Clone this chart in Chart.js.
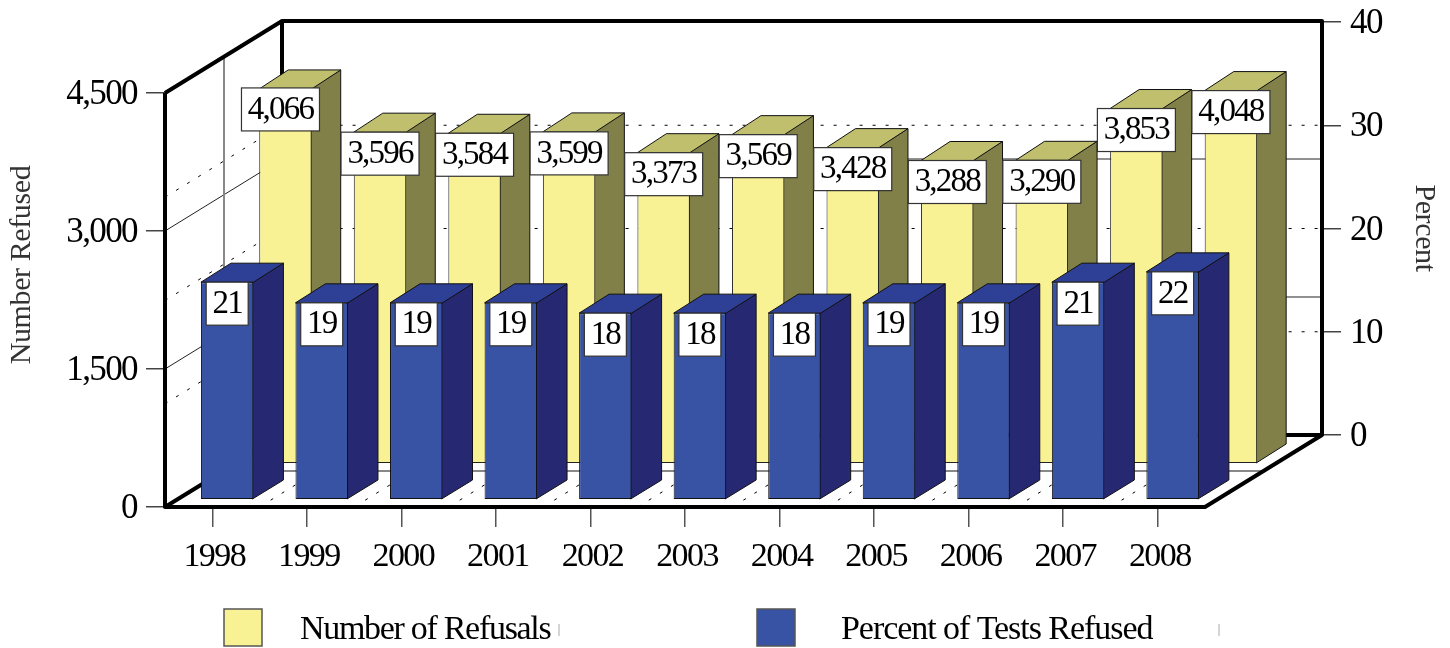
<!DOCTYPE html>
<html>
<head>
<meta charset="utf-8">
<title>Refusals</title>
<script src="https://cdn.jsdelivr.net/npm/chart.js@4/dist/chart.umd.min.js"></script>
<style>
  html, body { margin: 0; padding: 0; background: #fff; }
  canvas { display: block; }
</style>
</head>
<body>
<canvas id="chart" width="1450" height="648"></canvas>
<script>
const years = ['1998', '1999', '2000', '2001', '2002', '2003', '2004', '2005', '2006', '2007', '2008'];
const refusals = [4066, 3596, 3584, 3599, 3373, 3569, 3428, 3288, 3290, 3853, 4048];
const percentRefused = [21, 19, 19, 19, 18, 18, 18, 19, 19, 21, 22];

const serif = 'Liberation Serif';
const DEPTH_X = 117;
const DEPTH_Y = 72;

function placeScale(scale, left, top, right, bottom) {
  scale.left = left;
  scale.top = top;
  scale.right = right;
  scale.bottom = bottom;
  scale.width = right - left;
  scale.height = bottom - top;
  scale.configure();
}

function nudgeLabels(scale, area, dx, dy) {
  scale.getLabelItems(area).forEach(item => {
    item.options.translation[0] += dx;
    item.options.translation[1] += dy;
  });
}

function line(ctx, points, width, color, dash) {
  ctx.save();
  ctx.beginPath();
  points.forEach((p, i) => (i ? ctx.lineTo(p[0], p[1]) : ctx.moveTo(p[0], p[1])));
  ctx.lineWidth = width;
  ctx.strokeStyle = color;
  ctx.lineJoin = 'round';
  ctx.setLineDash(dash || []);
  ctx.stroke();
  ctx.restore();
}

function face(ctx, points, fill) {
  ctx.beginPath();
  points.forEach((p, i) => (i ? ctx.lineTo(p[0], p[1]) : ctx.moveTo(p[0], p[1])));
  ctx.closePath();
  ctx.fillStyle = fill;
  ctx.fill();
  ctx.lineWidth = 1;
  ctx.strokeStyle = '#111';
  ctx.stroke();
}

function text(ctx, str, x, y, size, color, spacing, rotation) {
  ctx.save();
  ctx.translate(x, y);
  if (rotation) ctx.rotate(rotation);
  ctx.font = size + 'px "' + serif + '"';
  ctx.letterSpacing = spacing + 'px';
  ctx.fillStyle = color;
  ctx.textAlign = 'center';
  ctx.textBaseline = 'middle';
  ctx.fillText(str, 0, 0);
  ctx.restore();
}

// the picture has two value planes and an offset right axis, so the scales get moved by hand
const planePlugin = {
  id: 'planes',
  afterLayout(chart) {
    const s = chart.scales;
    placeScale(s.x, 165, 507, 1205, 648);
    placeScale(s.y, 0, 93, 165, 507);
    placeScale(s.y2, 1323, 22, 1450, 435);
    placeScale(s.xFront, 179.9, 499, 1219.9, 520);
    placeScale(s.yFront, 150, 86, 179, 499);
    placeScale(s.xBack, 238.2, 463, 1278.2, 480);
    placeScale(s.yBack, 200, 49, 238, 463);
    chart.chartArea = { left: 165, top: 93, right: 1205, bottom: 507, width: 1040, height: 414 };
  },
  beforeDraw(chart) {
    chart.ctx.letterSpacing = '-1.6px';
    const s = chart.scales;
    nudgeLabels(s.x, chart.chartArea, 2, 2);
    nudgeLabels(s.y, chart.chartArea, 0, 2);
    nudgeLabels(s.y2, chart.chartArea, 0, 2);
  },
  beforeDatasetsDraw(chart) {
    const ctx = chart.ctx;
    const { x, y, y2 } = chart.scales;
    const l = x.left, r = x.right, b = x.top;
    const backY = y2.bottom, backL = l + DEPTH_X;
    const top = y.getPixelForValue(4500);

    // dotted floor lines between categories
    for (let i = 1; i < years.length; i++) {
      const fx = l + i * (r - l) / years.length;
      line(ctx, [[fx, b], [fx + DEPTH_X, b - DEPTH_Y]], 1, '#000', [3, 10]);
    }
    // percent grid: dotted
    y2.ticks.forEach(t => {
      if (t.value === 0 || t.value === 40) return;
      const p = y2.getPixelForValue(t.value);
      line(ctx, [[l, p + DEPTH_Y], [backL, p], [y2.left, p]], 1, '#000', [3, 10]);
    });
    // count grid: solid
    y.ticks.forEach(t => {
      if (t.value === 0 || t.value === 4500) return;
      const p = y.getPixelForValue(t.value);
      line(ctx, [[l, p], [backL, p - DEPTH_Y], [y2.left, p - DEPTH_Y]], 1, '#222');
    });
    // inner frame halfway back
    line(ctx, [[224, top - 36], [224, b - 36], [r + 59, b - 36]], 2, '#888');

    // box frame
    line(ctx, [[l, top], [l, b], [r, b], [y2.left - 1, backY], [backL, backY], [l, b]], 4, '#000');
    line(ctx, [[l, top], [backL, y2.top - 1], [y2.left - 1, y2.top - 1], [y2.left - 1, backY]], 4, '#000');
    line(ctx, [[backL, y2.top - 1], [backL, backY]], 4, '#000');
  },
  // side and top first so the front face from the library lands on top of them
  beforeDatasetDraw(chart, args) {
    const ctx = chart.ctx;
    const ds = chart.data.datasets[args.index];
    const dx = ds.depth[0], dy = ds.depth[1];
    args.meta.data.forEach(bar => {
      const x1 = bar.x - bar.width / 2, x2 = bar.x + bar.width / 2;
      face(ctx, [[x2 - 1, bar.y], [x2 + dx, bar.y - dy], [x2 + dx, bar.base - dy], [x2 - 1, bar.base]], ds.sideColor);
      face(ctx, [[x1, bar.y], [x1 + dx, bar.y - dy], [x2 + dx, bar.y - dy], [x2, bar.y]], ds.topColor);
    });
  },
  afterDatasetDraw(chart, args) {
    const ctx = chart.ctx;
    const ds = chart.data.datasets[args.index];
    args.meta.data.forEach((bar, i) => {
      const val = ds.data[i];
      const str = val.toLocaleString('en-US');
      const w = val >= 1000 ? 78 : 42;
      // first yellow label sits a little to the left and higher in the original
      const shift = val >= 1000 && i === 0 ? -5 : 0;
      const lift = val >= 1000 && i === 0 ? -1 : 0;
      const cx = bar.x + shift;
      ctx.fillStyle = '#fff';
      ctx.fillRect(cx - w / 2, bar.y + lift, w, 43);
      ctx.lineWidth = 1.2;
      ctx.strokeStyle = '#333';
      ctx.strokeRect(cx - w / 2, bar.y + lift, w, 43);
      text(ctx, str, cx, bar.y + lift + 22, 33, '#000', -1.8);
    });
  },
  afterDraw(chart) {
    const ctx = chart.ctx;
    text(ctx, 'Number Refused', 22, 265, 30, '#333', -0.4, -Math.PI / 2);
    text(ctx, 'Percent', 1424, 228, 30, '#333', -0.4, Math.PI / 2);

    // legend
    const items = [[224, 300, 559, -1.3], [757, 841, 1219, -1.05]];
    const sets = [chart.data.datasets[0], chart.data.datasets[1]];
    sets.forEach((ds, i) => {
      const [boxX, textX, markX, spacing] = items[i];
      ctx.fillStyle = ds.backgroundColor;
      ctx.fillRect(boxX, 609, 38, 37);
      ctx.lineWidth = 1.5;
      ctx.strokeStyle = '#555';
      ctx.strokeRect(boxX, 609, 38, 37);
      ctx.save();
      ctx.font = '34px "' + serif + '"';
      ctx.letterSpacing = spacing + 'px';
      ctx.fillStyle = '#000';
      ctx.textBaseline = 'middle';
      ctx.textAlign = 'left';
      ctx.fillText(ds.label, textX, 630);
      ctx.restore();
      line(ctx, [[markX, 624], [markX, 636]], 1, '#aaa');
    });
  }
};

new Chart(document.getElementById('chart'), {
  type: 'bar',
  data: {
    labels: years,
    datasets: [
      {
        label: 'Number of Refusals',
        data: refusals,
        xAxisID: 'xBack',
        yAxisID: 'yBack',
        order: 2,
        clip: false,
        grouped: false,
        categoryPercentage: 1,
        barPercentage: 0.555,
        backgroundColor: '#F9F295',
        borderColor: '#222',
        borderWidth: 1,
        borderSkipped: false,
        topColor: '#BFBF6E',
        sideColor: '#808048',
        depth: [29, 19]
      },
      {
        label: 'Percent of Tests Refused',
        data: percentRefused,
        xAxisID: 'xFront',
        yAxisID: 'yFront',
        order: 1,
        clip: false,
        grouped: false,
        categoryPercentage: 1,
        barPercentage: 0.555,
        backgroundColor: '#3953A4',
        borderColor: '#111',
        borderWidth: 1,
        borderSkipped: false,
        topColor: '#2E3F96',
        sideColor: '#262872',
        depth: [30, 19]
      }
    ]
  },
  options: {
    responsive: false,
    animation: false,
    plugins: { legend: { display: false }, tooltip: { enabled: false } },
    scales: {
      x: {
        position: 'bottom',
        offset: true,
        grid: { offset: false, drawOnChartArea: false, tickLength: 20, tickColor: '#555', lineWidth: 1.5 },
        border: { display: false },
        ticks: { font: { family: serif, size: 34 }, color: '#000', padding: 8, autoSkip: false, maxRotation: 0, minRotation: 0 }
      },
      y: {
        position: 'left',
        min: 0,
        max: 4500,
        grid: { drawOnChartArea: false, tickLength: 19, tickColor: '#444', lineWidth: 1.5 },
        border: { display: false },
        ticks: { stepSize: 1500, font: { family: serif, size: 35 }, color: '#000', padding: 9 }
      },
      y2: {
        position: 'right',
        min: 0,
        max: 40,
        grid: { drawOnChartArea: false, tickLength: 18, tickColor: '#444', lineWidth: 1.5 },
        border: { display: false },
        ticks: { stepSize: 10, font: { family: serif, size: 35 }, color: '#000', padding: 9 }
      },
      xFront: { axis: 'x', type: 'category', display: false, offset: true },
      yFront: { axis: 'y', type: 'linear', display: false, min: 0, max: 40 },
      xBack: { axis: 'x', type: 'category', display: false, offset: true },
      yBack: { axis: 'y', type: 'linear', display: false, min: 0, max: 4500 }
    }
  },
  plugins: [planePlugin]
});
</script>
</body>
</html>
